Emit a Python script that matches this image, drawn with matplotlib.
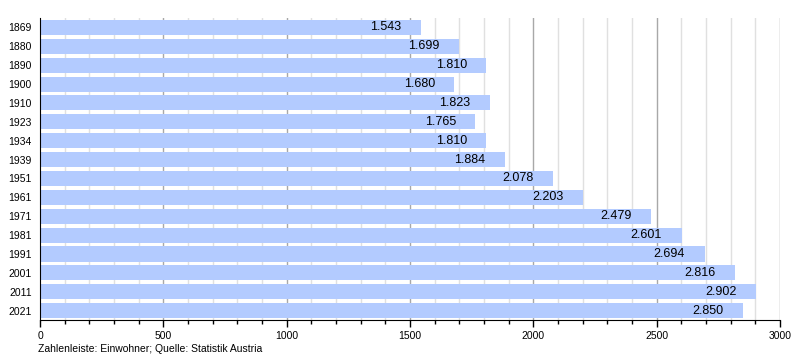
import matplotlib
matplotlib.use("Agg")
import matplotlib.pyplot as plt
from matplotlib.ticker import MultipleLocator

years = ["1869", "1880", "1890", "1900", "1910", "1923", "1934", "1939",
         "1951", "1961", "1971", "1981", "1991", "2001", "2011", "2021"]
population = [1543, 1699, 1810, 1680, 1823, 1765, 1810, 1884,
              2078, 2203, 2479, 2601, 2694, 2816, 2902, 2850]

plt.rcParams['font.family'] = ['Liberation Sans', 'DejaVu Sans']

fig = plt.figure(figsize=(8, 3.6), dpi=100)
ax = fig.add_axes([0.05, 0.111, 0.925, 0.839])

y = list(range(len(years)))
ax.barh(y, population, height=0.8, color='#b3cbff', zorder=2)

for yi, v in zip(y, population):
    label = f"{v // 1000}.{v % 1000:03d}"
    ax.annotate(label, xy=(v, yi), xytext=(-14, 0), textcoords='offset points',
                ha='right', va='center', fontsize=9, color='#000000', zorder=3)

ax.set_xlim(0, 3000)
ax.set_ylim(len(years) - 0.5, -0.5)
ax.set_yticks(y)
ax.set_yticklabels(years, fontsize=7.5)
ax.tick_params(axis='y', length=0, pad=6)

ax.xaxis.set_major_locator(MultipleLocator(500))
ax.xaxis.set_minor_locator(MultipleLocator(100))
ax.tick_params(axis='x', which='major', length=5, width=1, labelsize=7.5, pad=3)
ax.tick_params(axis='x', which='minor', length=3, width=1)

for xv in range(100, 3001, 100):
    if xv % 500 == 0:
        ax.axvline(xv, color='#a8a8a8', lw=1, zorder=1)
    else:
        ax.axvline(xv, color='#e0e0e0', lw=1, zorder=1)

for s in ['top', 'right']:
    ax.spines[s].set_visible(False)
ax.spines['left'].set_color('black')
ax.spines['bottom'].set_color('black')

fig.text(0.0475, 0.03, "Zahlenleiste: Einwohner; Quelle: Statistik Austria",
         fontsize=7.5, ha='left', va='center')

fig.savefig("out.png", dpi=100)
